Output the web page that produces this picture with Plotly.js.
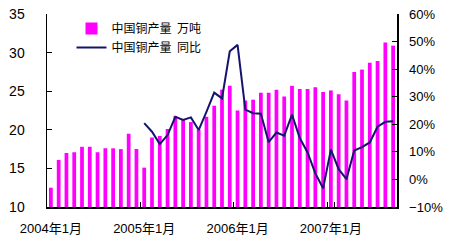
<!DOCTYPE html>
<html>
<head>
<meta charset="utf-8">
<script src="https://cdn.plot.ly/plotly-3.0.1.min.js"></script>
<style>html,body{margin:0;padding:0;background:#fff}#chart{width:450px;height:250px}</style>
</head>
<body>
<div id="chart"></div>
<script>
const months = [
  '2004-01','2004-02','2004-03','2004-04','2004-05','2004-06','2004-07','2004-08','2004-09','2004-10','2004-11','2004-12',
  '2005-01','2005-02','2005-03','2005-04','2005-05','2005-06','2005-07','2005-08','2005-09','2005-10','2005-11','2005-12',
  '2006-01','2006-02','2006-03','2006-04','2006-05','2006-06','2006-07','2006-08','2006-09','2006-10','2006-11','2006-12',
  '2007-01','2007-02','2007-03','2007-04','2007-05','2007-06','2007-07','2007-08','2007-09'
];
const output = [
  12.5, 16.1, 17.0, 17.1, 17.8, 17.8, 17.1, 17.6, 17.6, 17.5, 19.5, 17.5,
  15.1, 19.0, 19.2, 20.1, 21.8, 21.4, 21.0, 20.0, 21.7, 23.1, 25.2, 25.7,
  22.5, 23.8, 23.9, 24.8, 24.8, 25.2, 24.3, 25.7, 25.3, 25.3, 25.5, 24.9,
  25.1, 24.6, 23.8, 27.5, 27.8, 28.7, 28.9, 31.3, 30.9
];
const yoy = [
  null, null, null, null, null, null, null, null, null, null, null, null,
  20.4, 17.3, 12.8, 16.1, 22.7, 21.6, 22.5, 17.9, 24.5, 31.5, 29.4, 46.5,
  48.8, 25.3, 24.0, 23.8, 13.5, 17.0, 15.9, 23.5, 15.0, 9.8, 2.2, -3.2,
  10.8, 3.7, 0.1, 10.5, 11.7, 13.4, 19.1, 20.9, 21.1
];
const tickMonths = ['2004-01','2005-01','2006-01','2007-01'];
const tickLabels = ['2004年1月','2005年1月','2006年1月','2007年1月'];
const seriesNames = ['中国铜产量  万吨','中国铜产量  同比'];

const font = {family: 'Liberation Sans, Arial, "Noto Sans CJK SC", sans-serif', size: 13, color: '#000'};

const data = [
  {type: 'bar', x: months, y: output, name: seriesNames[0],
   marker: {color: '#ff00ff', line: {width: 0}}, yaxis: 'y'},
  {type: 'scatter', mode: 'lines', x: months, y: yoy, name: seriesNames[1],
   line: {color: '#14146e', width: 2}, yaxis: 'y2', connectgaps: false}
];

const layout = {
  width: 450, height: 250,
  margin: {l: 47, r: 53, t: 14, b: 43, pad: 0},
  paper_bgcolor: '#fff', plot_bgcolor: '#fff',
  font: font,
  showlegend: true,
  bargap: 0.52,
  legend: {x: 0.07, y: 1.0, xanchor: 'left', yanchor: 'top', bgcolor: 'rgba(0,0,0,0)',
           font: {family: '"Noto Sans CJK SC", sans-serif', size: 12, color: '#000'},
           traceorder: 'normal', itemwidth: 30, tracegroupgap: 0},
  xaxis: {type: 'category', tickmode: 'array', tickvals: tickMonths, ticktext: tickLabels,
          tickson: 'boundaries', ticks: 'inside', ticklen: 5, tickcolor: '#000',
          showline: true, linecolor: '#000', linewidth: 1.5, showgrid: false, zeroline: false,
          range: [-0.5, months.length - 0.5], tickangle: 0, ticklabelstandoff: 9,
          tickfont: {family: 'Liberation Sans, Arial, "Noto Sans CJK SC", sans-serif', size: 13}},
  yaxis: {range: [10, 35], dtick: 5, tick0: 10, ticks: 'inside', ticklen: 5, tickcolor: '#000',
          showline: true, linecolor: '#000', linewidth: 1.5, showgrid: false, zeroline: false,
          ticklabelstandoff: 18, tickfont: {size: 14}},
  yaxis2: {overlaying: 'y', side: 'right', range: [-10, 60], dtick: 10, tick0: -10, ticksuffix: '%',
           ticks: 'inside', ticklen: 5, tickcolor: '#000',
           showline: true, linecolor: '#000', linewidth: 1.5, showgrid: false, zeroline: false,
           ticklabelstandoff: 8}
};

Plotly.newPlot('chart', data, layout, {displayModeBar: false, staticPlot: true});
</script>
</body>
</html>
